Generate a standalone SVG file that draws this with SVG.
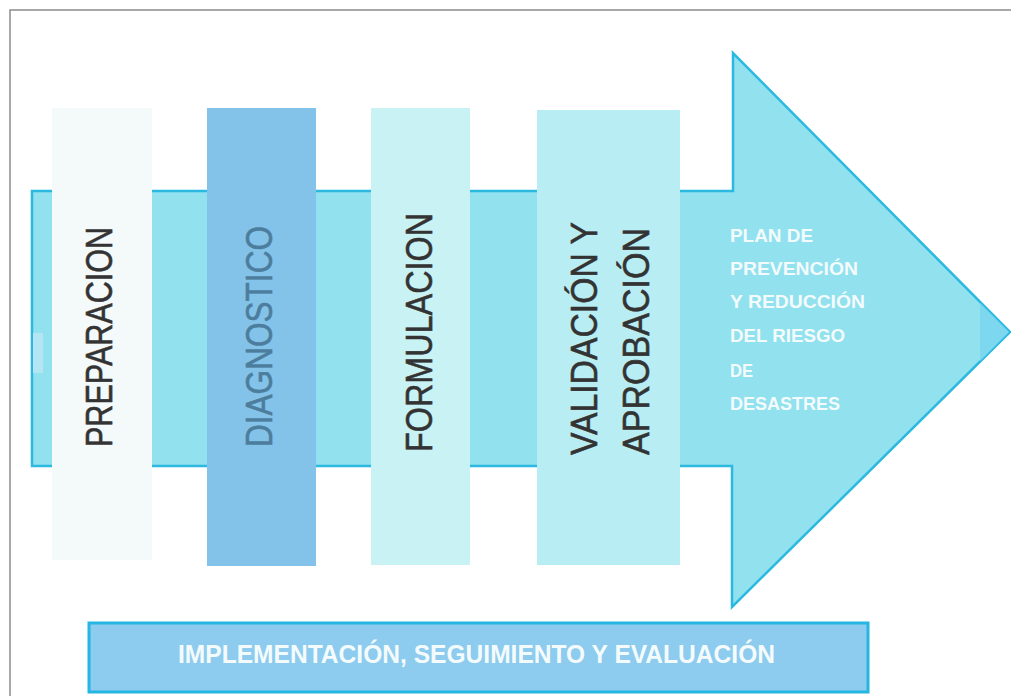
<svg xmlns="http://www.w3.org/2000/svg" width="1011" height="696" viewBox="0 0 1011 696">
  <style>
    .phase { font-family: "Liberation Sans", Arial, sans-serif; font-size: 37px; fill: #333333; stroke: #333333; stroke-width: 0.6; }
    .plan { font-family: "Liberation Sans", Arial, sans-serif; font-size: 19px; font-weight: bold; fill: #f4fbfc; }
    .impl { font-family: "Liberation Sans", Arial, sans-serif; font-size: 25px; font-weight: bold; fill: #f4fbfc; }
  </style>
  <rect x="0" y="0" width="1011" height="696" fill="#ffffff"/>
  <path d="M10,696 V10 H1011" fill="none" stroke="#8c8c8c" stroke-width="1.5"/>

  <g id="flow-arrow">
    <polygon points="32,191 733,191 733,53 1010,332 732,607 732,466 32,466" fill="#91e1ef" stroke="#2cb9e0" stroke-width="2.5" stroke-linejoin="miter"/>
    <polygon points="980,303 1009,332 980,361" fill="#7dd8ef"/>
    <rect x="33" y="333" width="10" height="40" fill="#b3e5f3"/>
  </g>

  <g id="preparacion">
    <rect x="52" y="108" width="100" height="452" fill="#f4f9f9"/>
    <text class="phase" transform="translate(112,447) rotate(-90)" textLength="220" lengthAdjust="spacingAndGlyphs">PREPARACION</text>
  </g>

  <g id="diagnostico">
    <rect x="207" y="108" width="109" height="458" fill="#83c3e9"/>
    <text class="phase" style="fill:#4d7d9c;stroke:#4d7d9c" transform="translate(272,447) rotate(-90)" textLength="221" lengthAdjust="spacingAndGlyphs">DIAGNOSTICO</text>
  </g>

  <g id="formulacion">
    <rect x="371" y="108" width="99" height="457" fill="#c8f2f4"/>
    <text class="phase" transform="translate(432,452) rotate(-90)" textLength="239" lengthAdjust="spacingAndGlyphs">FORMULACION</text>
  </g>

  <g id="validacion">
    <rect x="537" y="110" width="143" height="455" fill="#b8edf3"/>
    <text class="phase" transform="translate(597,455) rotate(-90)" textLength="233" lengthAdjust="spacingAndGlyphs">VALIDACIÓN Y</text>
    <text class="phase" transform="translate(649,455) rotate(-90)" textLength="227" lengthAdjust="spacingAndGlyphs">APROBACIÓN</text>
  </g>

  <g id="plan">
    <text class="plan" x="730" y="242" textLength="83" lengthAdjust="spacingAndGlyphs">PLAN DE</text>
    <text class="plan" x="730" y="275" textLength="128" lengthAdjust="spacingAndGlyphs">PREVENCIÓN</text>
    <text class="plan" x="730" y="308" textLength="135" lengthAdjust="spacingAndGlyphs">Y REDUCCIÓN</text>
    <text class="plan" x="730" y="342" textLength="115" lengthAdjust="spacingAndGlyphs">DEL RIESGO</text>
    <text class="plan" x="730" y="377" textLength="23" lengthAdjust="spacingAndGlyphs">DE</text>
    <text class="plan" x="730" y="410" textLength="110" lengthAdjust="spacingAndGlyphs">DESASTRES</text>
  </g>

  <g id="implementacion">
    <rect x="89" y="623" width="779" height="69" fill="#8dcbef" stroke="#25b6e1" stroke-width="3"/>
    <text class="impl" x="178" y="663" textLength="597" lengthAdjust="spacingAndGlyphs">IMPLEMENTACIÓN, SEGUIMIENTO Y EVALUACIÓN</text>
  </g>

  <g id="connectors"/>
</svg>
